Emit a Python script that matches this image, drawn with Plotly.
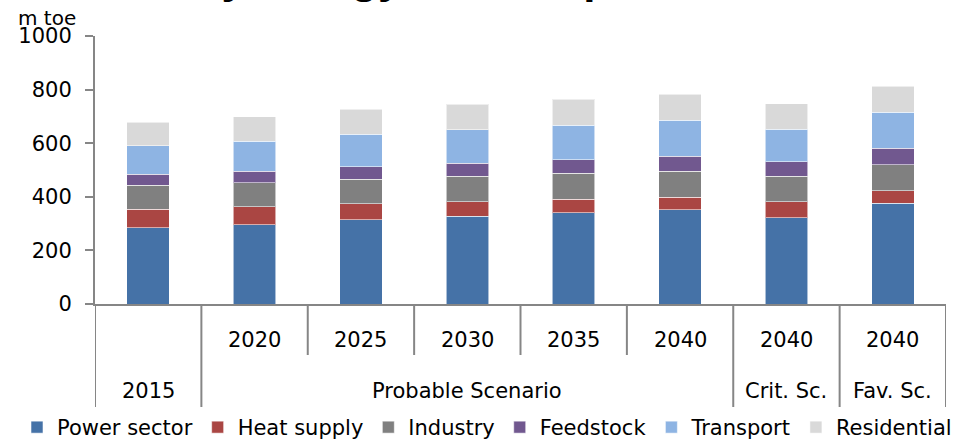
import plotly.graph_objects as go

# ---- data ----
groups = ["2015", "Probable Scenario", "Probable Scenario", "Probable Scenario",
          "Probable Scenario", "Probable Scenario", "Crit. Sc.", "Fav. Sc."]
years = ["", "2020", "2025", "2030", "2035", "2040", "2040", "2040"]

power_sector = [285, 295, 315, 327, 341, 352, 322, 376]
heat_supply = [69, 68, 60, 55, 50, 46, 59, 47]
industry = [89, 89, 90, 95, 96, 97, 96, 97]
feedstock = [42, 43, 48, 49, 52, 56, 53, 62]
transport = [105, 112, 120, 125, 128, 134, 122, 134]
residential = [89, 91, 93, 95, 97, 97, 96, 97]

series_names = ["Power sector", "Heat supply", "Industry", "Feedstock", "Transport", "Residential"]
series_values = [power_sector, heat_supply, industry, feedstock, transport, residential]
colors = ["#4572A7", "#AA4643", "#808080", "#71588F", "#8EB4E3", "#D9D9D9"]

y_ticks = [0, 200, 400, 600, 800, 1000]
unit_label = "m toe"
title_text = "Primary energy consumption"

FONT = "DejaVu Sans"
AXIS_COLOR = "#868686"

x_pos = list(range(len(years)))

fig = go.Figure()
for name, vals, col in zip(series_names, series_values, colors):
    fig.add_trace(go.Bar(
        x=x_pos, y=vals, name=name,
        marker=dict(color=col, line=dict(color="rgba(255,255,255,0.55)", width=1)),
    ))

# plot area geometry in paper units
plot_h = 268.0
plot_w = 851.0
def py(pix_below_axis):
    return -pix_below_axis / plot_h

shapes = []
n = len(years)
# category boundaries
for i in range(n + 1):
    b = i - 0.5
    if i == 0 or i == n or groups[i - 1] != groups[i]:
        y1 = py(103)
    else:
        y1 = py(51)
    shapes.append(dict(type="line", xref="x", yref="paper", x0=b, x1=b, y0=0, y1=y1,
                       line=dict(color=AXIS_COLOR, width=2)))

annotations = []
for i, yr in enumerate(years):
    if yr:
        annotations.append(dict(x=i, y=py(35.5), xref="x", yref="paper", text=yr,
                                showarrow=False, xanchor="center", yanchor="middle",
                                font=dict(family=FONT, size=21, color="black")))
# group labels
i = 0
while i < n:
    j = i
    while j + 1 < n and groups[j + 1] == groups[i]:
        j += 1
    annotations.append(dict(x=(i + j) / 2, y=py(86.5), xref="x", yref="paper", text=groups[i],
                            showarrow=False, xanchor="center", yanchor="middle",
                            font=dict(family=FONT, size=21, color="black")))
    i = j + 1

annotations.append(dict(x=(16 - 95) / plot_w, y=1 + (36 - 18) / plot_h, xref="paper", yref="paper",
                        text=unit_label, showarrow=False, xanchor="left", yanchor="middle",
                        font=dict(family=FONT, size=20, color="black")))
annotations.append(dict(x=(80 - 95) / plot_w, y=1 + (36 - 3.5) / plot_h, xref="paper", yref="paper",
                        text="<b>" + title_text + "</b>", showarrow=False, xanchor="left",
                        yanchor="bottom",
                        font=dict(family="Liberation Sans", size=44, color="black")))

fig.update_layout(
    width=961, height=440,
    margin=dict(l=95, r=15, t=36, b=136, pad=0, autoexpand=False),
    paper_bgcolor="white", plot_bgcolor="white",
    barmode="stack", bargap=0.6,
    showlegend=True,
    legend=dict(orientation="h", x=(17 - 95) / plot_w, xanchor="left",
                y=py(123.5), yanchor="middle", traceorder="normal",
                font=dict(family=FONT, size=21, color="black"),
                bgcolor="rgba(0,0,0,0)"),
    xaxis=dict(range=[-0.5, n - 0.5], showticklabels=False, showgrid=False, zeroline=False,
               showline=True, linecolor=AXIS_COLOR, linewidth=2, ticks=""),
    yaxis=dict(range=[0, 1000], tickvals=y_ticks, showgrid=False, zeroline=False,
               showline=True, linecolor=AXIS_COLOR, linewidth=2, ticks="outside",
               ticklen=8, tickwidth=2, tickcolor=AXIS_COLOR, ticklabelstandoff=9,
               tickfont=dict(family=FONT, size=21, color="black")),
    shapes=shapes, annotations=annotations,
)

fig.write_html("out.html",
               config={"displayModeBar": False},
               post_script="document.body.style.margin='0';document.body.style.overflow='hidden';")
